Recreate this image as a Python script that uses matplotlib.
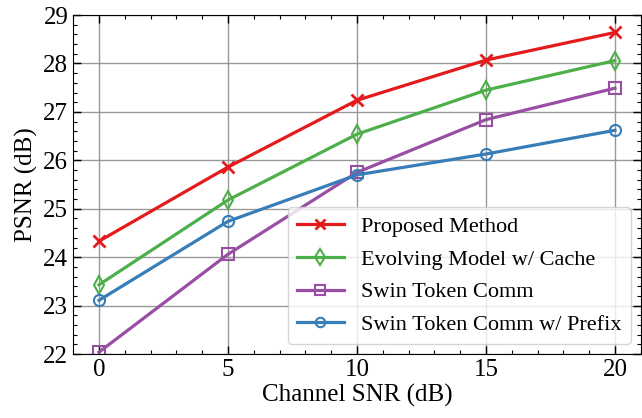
import numpy as np
import matplotlib
matplotlib.use("Agg")
import matplotlib.pyplot as plt
from matplotlib.ticker import MultipleLocator

# Data
snr = [0, 5, 10, 15, 20]
proposed = [24.33, 25.86, 27.24, 28.07, 28.64]
evolving = [23.43, 25.18, 26.54, 27.45, 28.06]
swin = [22.04, 24.06, 25.75, 26.84, 27.49]
swin_prefix = [23.11, 24.74, 25.70, 26.13, 26.62]

labels = ["Proposed Method", "Evolving Model w/ Cache",
          "Swin Token Comm", "Swin Token Comm w/ Prefix"]

plt.rcParams["font.family"] = ["Liberation Serif", "DejaVu Serif"]

fig, ax = plt.subplots(figsize=(6.42, 4.18), dpi=100)

ax.plot(snr, proposed, color="#e41a1c", marker="x", lw=2.3, ms=9, mew=2, label=labels[0])
ax.plot(snr, evolving, color="#4daf4a", marker="d", lw=2.3, ms=9, mew=1.5, mfc="none", label=labels[1])
ax.plot(snr, swin, color="#984ea3", marker="s", lw=2.3, ms=8, mew=1.5, mfc="none", label=labels[2])
ax.plot(snr, swin_prefix, color="#377eb8", marker="o", lw=2.3, ms=8, mew=1.5, mfc="none", label=labels[3])

ax.set_xlim(-1, 21)
ax.set_ylim(22, 29)
ax.xaxis.set_major_locator(MultipleLocator(5))
ax.xaxis.set_minor_locator(MultipleLocator(1))
ax.yaxis.set_major_locator(MultipleLocator(1))
ax.yaxis.set_minor_locator(MultipleLocator(0.2))
ax.tick_params(which="both", direction="in", top=True, right=True, labelsize=18)
ax.tick_params(which="major", length=6, width=1)
ax.tick_params(which="minor", length=3, width=0.8)
ax.grid(True, which="major", color="#999999", lw=1)

ax.set_xlabel("Channel SNR (dB)", fontsize=18, labelpad=2)
ax.set_ylabel("PSNR (dB)", fontsize=18, labelpad=4)

ax.legend(loc="lower right", fontsize=16, handlelength=2.1, handletextpad=0.8,
          labelspacing=0.55, borderaxespad=0.45, framealpha=0.8, edgecolor="#cccccc",
          markerscale=0.85)

fig.subplots_adjust(left=0.114, right=0.998, top=0.964, bottom=0.153)
fig.savefig("out.png", dpi=100)
